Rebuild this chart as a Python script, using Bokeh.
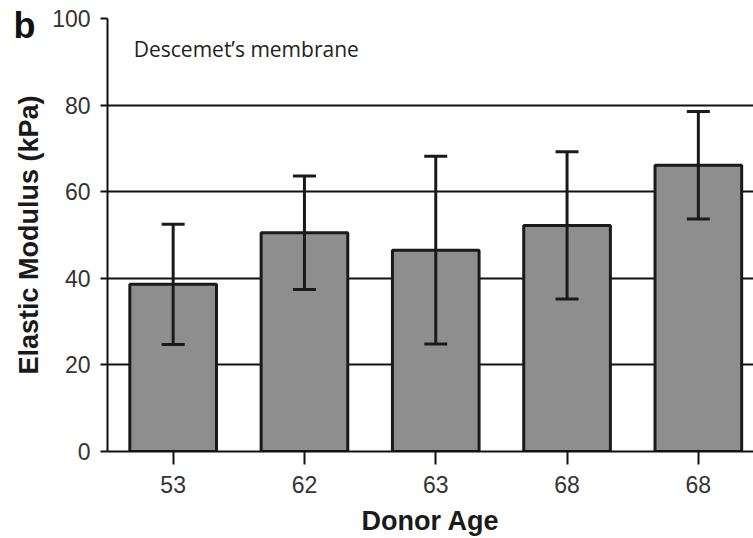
from bokeh.plotting import figure
from bokeh.models import (ColumnDataSource, Range1d, FixedTicker, Whisker, TeeHead, Label, Title)
from bokeh.embed import file_html
from bokeh.resources import INLINE

# ---- data ----
donor_ages = ["53", "62", "63", "68", "68"]
elastic_modulus = [38.6, 50.5, 46.5, 52.2, 66.1]
modulus_error = [13.9, 13.1, 21.7, 17.0, 12.4]
y_ticks = [0, 20, 40, 60, 80, 100]

positions = list(range(len(donor_ages)))
src = ColumnDataSource(dict(
    x=positions,
    top=elastic_modulus,
    upper=[m + e for m, e in zip(elastic_modulus, modulus_error)],
    lower=[m - e for m, e in zip(elastic_modulus, modulus_error)],
))

p = figure(width=753, height=538, output_backend="svg", toolbar_location=None,
           x_range=Range1d(-0.5, 4.42), y_range=Range1d(0, 100),
           min_border_left=107, min_border_right=0, min_border_top=18, min_border_bottom=87)
p.outline_line_color = None
p.background_fill_color = "white"

p.vbar(x="x", top="top", bottom=0, width=0.66, source=src,
       fill_color="#8e8e8e", line_color="#1a1a1a", line_width=3)

w = Whisker(base="x", upper="upper", lower="lower", source=src,
            line_color="#1a1a1a", line_width=3,
            upper_head=TeeHead(size=23, line_width=3, line_color="#1a1a1a"),
            lower_head=TeeHead(size=23, line_width=3, line_color="#1a1a1a"))
w.level = "overlay"
p.add_layout(w)

# grid
p.xgrid.grid_line_color = None
p.ygrid.grid_line_color = "#111111"
p.ygrid.grid_line_width = 2
p.ygrid.ticker = FixedTicker(ticks=y_ticks)

# y axis
ya = p.yaxis[0]
ya.ticker = FixedTicker(ticks=y_ticks)
ya.axis_label = "Elastic Modulus (kPa)"
ya.axis_label_text_font = "Liberation Sans"
ya.axis_label_text_font_style = "bold"
ya.axis_label_text_font_size = "27px"
ya.axis_label_text_color = "#1a1a1a"
ya.axis_label_standoff = 5
ya.major_label_text_font = "Liberation Sans"
ya.major_label_text_font_size = "23px"
ya.major_label_text_color = "#333333"
ya.major_label_standoff = 10
ya.major_tick_in = 0
ya.major_tick_out = 7
ya.major_tick_line_width = 2
ya.minor_tick_line_color = None
ya.axis_line_width = 2
ya.axis_line_color = "#111111"
ya.major_tick_line_color = "#111111"

# x axis
xa = p.xaxis[0]
xa.ticker = FixedTicker(ticks=positions)
xa.major_label_overrides = {i: lab for i, lab in zip(positions, donor_ages)}
xa.axis_label = "Donor Age"
xa.axis_label_text_font = "Liberation Sans"
xa.axis_label_text_font_style = "bold"
xa.axis_label_text_font_size = "27px"
xa.axis_label_text_color = "#1a1a1a"
xa.axis_label_standoff = 10
xa.major_label_text_font = "Liberation Sans"
xa.major_label_text_font_size = "23px"
xa.major_label_text_color = "#333333"
xa.major_label_standoff = 11
xa.major_tick_in = 0
xa.major_tick_out = 13
xa.major_tick_line_width = 2
xa.minor_tick_line_color = None
xa.axis_line_width = 2
xa.axis_line_color = "#111111"
xa.major_tick_line_color = "#111111"

# panel letter (as a title so it is not clipped) and caption
p.add_layout(Title(text="b", align="left", vertical_align="bottom", offset=-94, standoff=-54,
                   text_font="Liberation Sans", text_font_style="bold",
                   text_font_size="36px", text_color="#111111"), "above")
p.add_layout(Label(x=-0.30, y=93.0, text="Descemet\u2019s membrane", text_font="Open Sans",
                   text_font_size="21px", text_color="#222222",
                   text_baseline="alphabetic"))

open("out.html", "w").write(file_html(p, INLINE))
